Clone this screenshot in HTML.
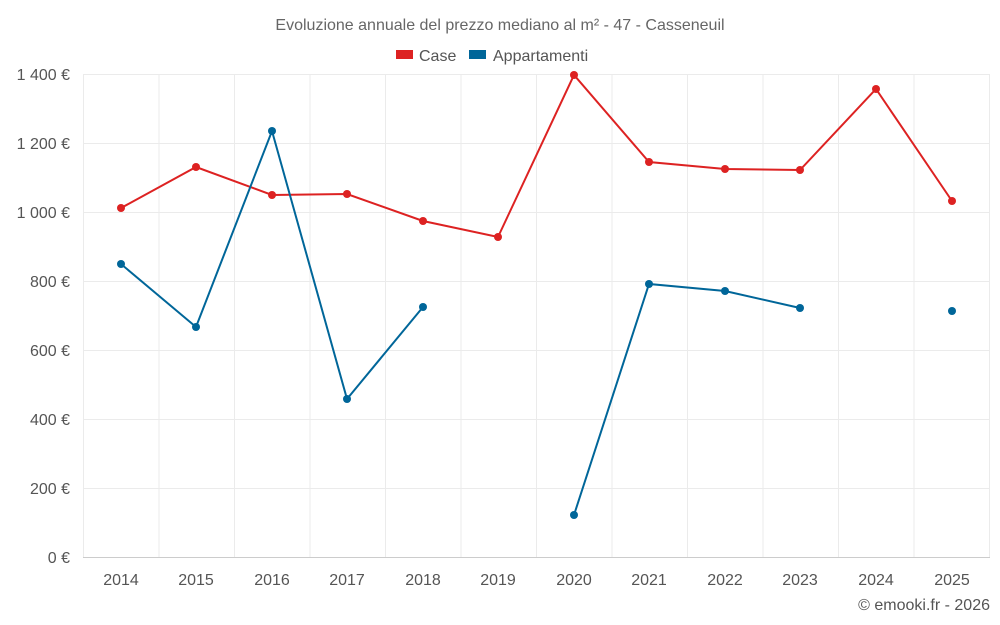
<!DOCTYPE html>
<html><head><meta charset="utf-8"><style>
body{margin:0;background:#fff;}
svg{display:block;font-family:"Liberation Sans",sans-serif;}
</style></head><body>
<svg width="1000" height="625" viewBox="0 0 1000 625">
<rect width="1000" height="625" fill="#fff"/>
<text x="500" y="30" text-anchor="middle" font-size="16" fill="#666">Evoluzione annuale del prezzo mediano al m² - 47 - Casseneuil</text>
<rect x="396" y="50" width="17" height="9" fill="#dd2222"/>
<text x="419" y="61" font-size="16" fill="#555">Case</text>
<rect x="469" y="50" width="17" height="9" fill="#006699"/>
<text x="493" y="61" font-size="16" fill="#555">Appartamenti</text>
<g stroke="#ebebeb" stroke-width="1">
<line x1="83" x2="990" y1="74.5" y2="74.5"/><line x1="83" x2="990" y1="143.5" y2="143.5"/>
<line x1="83" x2="990" y1="212.5" y2="212.5"/><line x1="83" x2="990" y1="281.5" y2="281.5"/>
<line x1="83" x2="990" y1="350.5" y2="350.5"/><line x1="83" x2="990" y1="419.5" y2="419.5"/>
<line x1="83" x2="990" y1="488.5" y2="488.5"/>
<line x1="83.5" x2="83.5" y1="74" y2="557"/><line x1="159" x2="159" y1="74" y2="557"/>
<line x1="234.5" x2="234.5" y1="74" y2="557"/><line x1="310" x2="310" y1="74" y2="557"/>
<line x1="385.5" x2="385.5" y1="74" y2="557"/><line x1="461" x2="461" y1="74" y2="557"/>
<line x1="536.5" x2="536.5" y1="74" y2="557"/><line x1="612" x2="612" y1="74" y2="557"/>
<line x1="687.5" x2="687.5" y1="74" y2="557"/><line x1="763" x2="763" y1="74" y2="557"/>
<line x1="838.5" x2="838.5" y1="74" y2="557"/><line x1="914" x2="914" y1="74" y2="557"/>
<line x1="989.5" x2="989.5" y1="74" y2="557"/>
</g>
<line x1="83" x2="990" y1="557.5" y2="557.5" stroke="#ccc"/>
<g font-size="16" fill="#555" text-anchor="end">
<text x="70" y="80">1 400 €</text><text x="70" y="149">1 200 €</text><text x="70" y="218">1 000 €</text>
<text x="70" y="287">800 €</text><text x="70" y="356">600 €</text><text x="70" y="425">400 €</text>
<text x="70" y="494">200 €</text><text x="70" y="563">0 €</text>
</g>
<g font-size="16" fill="#555" text-anchor="middle">
<text x="121" y="585">2014</text><text x="196" y="585">2015</text><text x="272" y="585">2016</text>
<text x="347" y="585">2017</text><text x="423" y="585">2018</text><text x="498" y="585">2019</text>
<text x="574" y="585">2020</text><text x="649" y="585">2021</text><text x="725" y="585">2022</text>
<text x="800" y="585">2023</text><text x="876" y="585">2024</text><text x="952" y="585">2025</text>
</g>
<text x="990" y="610" text-anchor="end" font-size="16" fill="#555">© emooki.fr - 2026</text>
<g fill="none" stroke-width="2">
<polyline stroke="#dd2222" points="121,208 196,167 272,195 347,194 423,221 498,237 574,75 649,162 725,169 800,170 876,89 952,201"/>
<polyline stroke="#006699" points="121,264 196,327 272,131 347,399 423,307"/>
<polyline stroke="#006699" points="574,515 649,284 725,291 800,308"/>
</g>
<g fill="#dd2222">
<circle cx="121" cy="208" r="4"/><circle cx="196" cy="167" r="4"/><circle cx="272" cy="195" r="4"/>
<circle cx="347" cy="194" r="4"/><circle cx="423" cy="221" r="4"/><circle cx="498" cy="237" r="4"/>
<circle cx="574" cy="75" r="4"/><circle cx="649" cy="162" r="4"/><circle cx="725" cy="169" r="4"/>
<circle cx="800" cy="170" r="4"/><circle cx="876" cy="89" r="4"/><circle cx="952" cy="201" r="4"/>
</g>
<g fill="#006699">
<circle cx="121" cy="264" r="4"/><circle cx="196" cy="327" r="4"/><circle cx="272" cy="131" r="4"/>
<circle cx="347" cy="399" r="4"/><circle cx="423" cy="307" r="4"/><circle cx="574" cy="515" r="4"/>
<circle cx="649" cy="284" r="4"/><circle cx="725" cy="291" r="4"/><circle cx="800" cy="308" r="4"/>
<circle cx="952" cy="311" r="4"/>
</g>
</svg>
</body></html>
